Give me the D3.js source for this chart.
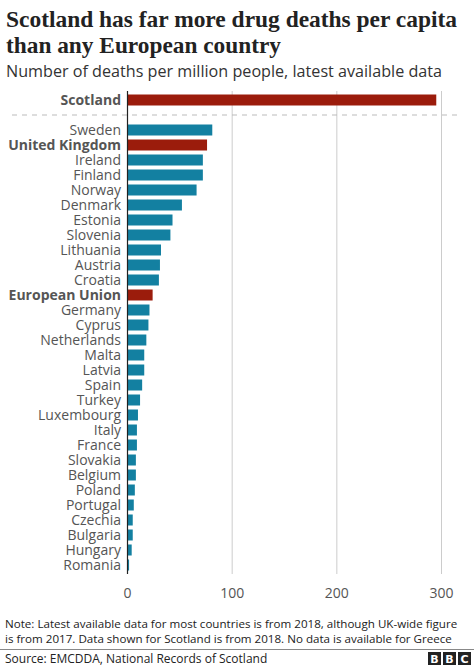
<!DOCTYPE html>
<html><head><meta charset="utf-8">
<script src="https://cdn.jsdelivr.net/npm/d3@7"></script>
<style>body{margin:0;background:#fff}</style>
</head><body><svg id="c" width="474" height="666"></svg>
<script>
const categories = ["Scotland","Sweden","United Kingdom","Ireland","Finland","Norway","Denmark","Estonia","Slovenia","Lithuania","Austria","Croatia","European Union","Germany","Cyprus","Netherlands","Malta","Latvia","Spain","Turkey","Luxembourg","Italy","France","Slovakia","Belgium","Poland","Portugal","Czechia","Bulgaria","Hungary","Romania"];
const values = [295,81,76,72,72,66,52,43,41,32,31,30,24,21,20,18,16,16,14,12,10,9,9,8,8,7,6,5,5,4,1.5];
const highlighted = ["Scotland","United Kingdom","European Union"];
const xTicks = [0,100,200,300];

const svg = d3.select("#c");
const sans = "'Open Sans', 'Noto Sans', sans-serif";
const x = d3.scaleLinear().domain([0,300]).range([127.5,441.5]);
const y = d => d===0 ? 100 : 130 + (d-1)*15;

const serif = "'Liberation Serif', serif";
svg.append("text").attr("x",6).attr("y",27).attr("font-family",serif).attr("font-size",24).attr("font-weight","bold").attr("fill","#222")
  .attr("textLength",451).attr("lengthAdjust","spacingAndGlyphs")
  .text("Scotland has far more drug deaths per capita");
svg.append("text").attr("x",6).attr("y",53).attr("font-family",serif).attr("font-size",24).attr("font-weight","bold").attr("fill","#222")
  .attr("textLength",275).attr("lengthAdjust","spacingAndGlyphs")
  .text("than any European country");
svg.append("text").attr("x",6).attr("y",77).attr("font-family",sans).attr("font-size",15.5).attr("fill","#333")
  .attr("textLength",436).attr("lengthAdjust","spacingAndGlyphs")
  .text("Number of deaths per million people, latest available data");

const g = svg.append("g");
g.selectAll("line.grid").data(xTicks.slice(1)).join("line")
  .attr("x1",d=>x(d)).attr("x2",d=>x(d)).attr("y1",91).attr("y2",574).attr("stroke","#ccc").attr("stroke-width",1);
g.append("line").attr("x1",12).attr("x2",462).attr("y1",115).attr("y2",115).attr("stroke","#bbb").attr("stroke-dasharray","5,5");

g.selectAll("rect").data(categories).join("rect")
  .attr("x",x(0)).attr("y",(d,i)=>y(i)-5.5).attr("height",11)
  .attr("width",(d,i)=>x(values[i])-x(0))
  .attr("fill",d=>highlighted.includes(d)?"#9b1c0c":"#1380a1");

g.selectAll("text.lab").data(categories).join("text")
  .attr("x",121).attr("y",(d,i)=>y(i)+5).attr("text-anchor","end")
  .attr("font-family",sans).attr("font-size",14)
  .attr("font-weight",d=>highlighted.includes(d)?"bold":"normal")
  .attr("fill","#555").text(d=>d);

g.append("line").attr("x1",x(0)).attr("x2",x(0)).attr("y1",91).attr("y2",574).attr("stroke","#222").attr("stroke-width",1.2);

g.selectAll("text.tick").data(xTicks).join("text")
  .attr("x",d=>x(d)).attr("y",598).attr("text-anchor","middle")
  .attr("font-family",sans).attr("font-size",14).attr("fill","#555").text(d=>d);

svg.append("text").attr("x",5).attr("y",628).attr("font-family",sans).attr("font-size",11.6).attr("fill","#222")
  .text("Note: Latest available data for most countries is from 2018, although UK-wide figure");
svg.append("text").attr("x",5).attr("y",643).attr("font-family",sans).attr("font-size",11.6).attr("fill","#222")
  .text("is from 2017. Data shown for Scotland is from 2018. No data is available for Greece");
svg.append("line").attr("x1",0).attr("x2",474).attr("y1",649.5).attr("y2",649.5).attr("stroke","#888");
svg.append("text").attr("x",5).attr("y",663).attr("font-family",sans).attr("font-size",12).attr("fill","#222")
  .text("Source: EMCDDA, National Records of Scotland");
["B","B","C"].forEach((c,i)=>{
  svg.append("rect").attr("x",428+i*15).attr("y",652).attr("width",13).attr("height",13).attr("fill","#222");
  svg.append("text").attr("x",434.5+i*15).attr("y",663).attr("text-anchor","middle").attr("font-family","'DejaVu Sans', sans-serif").attr("font-weight","bold").attr("font-size",11).attr("fill","#fff").text(c);
});
</script></body></html>
